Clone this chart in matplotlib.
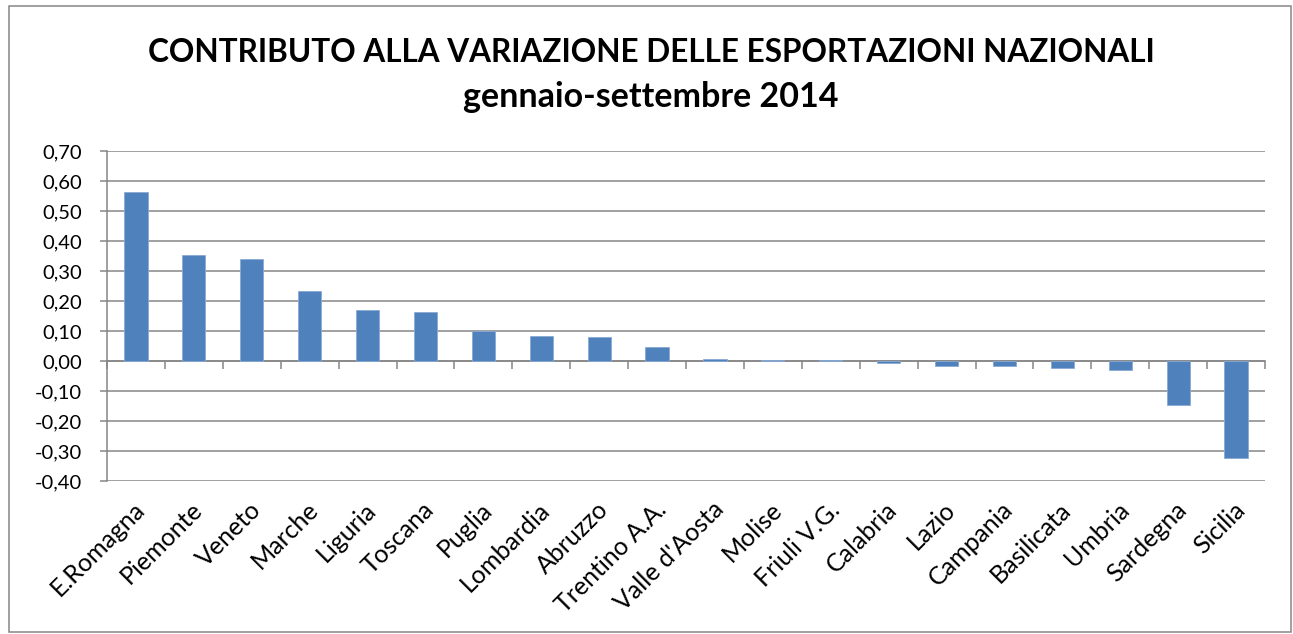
import matplotlib
matplotlib.use("Agg")
import matplotlib.pyplot as plt
from matplotlib.ticker import FuncFormatter
from matplotlib.patches import Rectangle
from matplotlib.transforms import ScaledTranslation

regions = ['E.Romagna', 'Piemonte', 'Veneto', 'Marche', 'Liguria', 'Toscana',
           'Puglia', 'Lombardia', 'Abruzzo', 'Trentino A.A.', "Valle d'Aosta",
           'Molise', 'Friuli V.G.', 'Calabria', 'Lazio', 'Campania',
           'Basilicata', 'Umbria', 'Sardegna', 'Sicilia']
contributo = [0.562, 0.352, 0.339, 0.234, 0.169, 0.162, 0.101, 0.082, 0.079,
              0.046, 0.007, 0.004, 0.002, -0.008, -0.017, -0.018, -0.023,
              -0.031, -0.146, -0.323]
y_ticks = [-0.40, -0.30, -0.20, -0.10, 0.00, 0.10, 0.20, 0.30, 0.40, 0.50, 0.60, 0.70]
title_line1 = 'CONTRIBUTO ALLA VARIAZIONE DELLE ESPORTAZIONI NAZIONALI'
title_line2 = 'gennaio-settembre 2014'

W, H = 1293, 634
plt.rcParams['font.family'] = ['Lato', 'DejaVu Sans']
fig = plt.figure(figsize=(W / 100, H / 100), dpi=100)
ax = fig.add_axes([107 / W, 1 - 481 / H, (1265 - 107) / W, (481 - 151) / H])

grid_c = '#868686'
bar_c = '#4F81BD'

x = list(range(len(regions)))
ax.bar(x, contributo, width=0.4, color=bar_c, edgecolor='#8aaad4', linewidth=0.6, zorder=3)

ax.set_xlim(-0.5, len(regions) - 0.5)
ax.set_ylim(min(y_ticks), max(y_ticks))
ax.set_yticks(y_ticks)
ax.yaxis.set_major_formatter(FuncFormatter(lambda v, p: f"{v:.2f}".replace('.', ',')))
ax.yaxis.grid(True, color=grid_c, linewidth=1.1, zorder=0)
ax.set_axisbelow(True)

for s in ['top', 'right', 'bottom']:
    ax.spines[s].set_visible(False)
ax.spines['left'].set_color(grid_c)
ax.spines['left'].set_linewidth(1.1)
ax.tick_params(axis='y', direction='out', length=5, width=1.1, color=grid_c,
               pad=13, labelsize=14.5, labelcolor='black')

ax.set_xticks(x)
ax.set_xticklabels(regions, rotation=45, ha='right', va='top', rotation_mode='anchor')
ax.tick_params(axis='x', length=0, pad=12, labelsize=18, labelcolor='black')
shift = ScaledTranslation(-3 / 100, 0, fig.dpi_scale_trans)
for lbl in ax.get_xticklabels():
    lbl.set_transform(lbl.get_transform() + shift)

# zero axis line with category-boundary tick marks
sec = ax.secondary_xaxis((0 - min(y_ticks)) / (max(y_ticks) - min(y_ticks)))
sec.set_xticks([i - 0.5 for i in range(len(regions) + 1)])
sec.set_xticklabels([])
sec.tick_params(direction='out', length=6, width=1.1, color=grid_c)
sec.spines['bottom'].set_color(grid_c)
sec.spines['bottom'].set_linewidth(1.1)

fig.text(651 / W, 1 - 62 / H, title_line1, ha='center', va='baseline',
         fontsize=22.7, fontweight='bold')
fig.text(651 / W, 1 - 107 / H, title_line2, ha='center', va='baseline',
         fontsize=24.5, fontweight='bold')

fig.patches.append(Rectangle((9 / W, 1 - 632 / H), (1291 - 9) / W, (632 - 6) / H,
                             transform=fig.transFigure, fill=False,
                             edgecolor='#868686', linewidth=1.1))

fig.savefig('out.png', dpi=100)
